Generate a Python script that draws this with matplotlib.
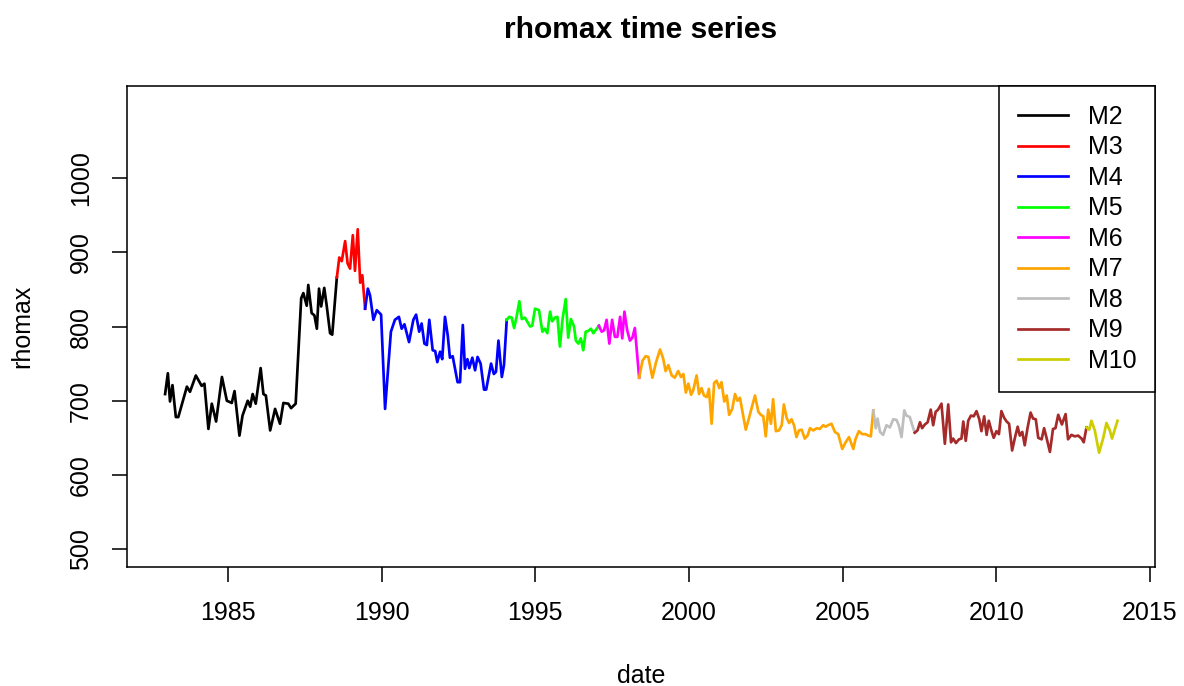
import matplotlib
matplotlib.use("Agg")
import matplotlib.pyplot as plt

plt.rcParams['font.family'] = ['Liberation Sans', 'DejaVu Sans']

# rhomax readings per instrument period (decimal year, value)
m2_t = [1982.95, 1983.04, 1983.11, 1983.19, 1983.30, 1983.38, 1983.66, 1983.76, 1983.95, 1984.14,
        1984.23, 1984.36, 1984.47, 1984.61, 1984.80, 1984.96, 1985.12, 1985.21, 1985.37, 1985.47,
        1985.64, 1985.72, 1985.80, 1985.90, 1986.06, 1986.15, 1986.23, 1986.37, 1986.53, 1986.69,
        1986.80, 1986.96, 1987.05, 1987.20, 1987.38, 1987.45, 1987.56, 1987.61, 1987.72, 1987.81,
        1987.89, 1987.96, 1988.03, 1988.13, 1988.21, 1988.32, 1988.39, 1988.54]
m2_v = [709, 737, 699, 721, 678, 678, 719, 712, 734, 720,
        723, 662, 696, 672, 732, 700, 697, 713, 653, 680,
        700, 692, 709, 696, 744, 709, 707, 660, 689, 669,
        697, 696, 690, 696, 838, 845, 828, 856, 818, 815,
        797, 851, 827, 852, 828, 791, 789, 866]

m3_t = [1988.54, 1988.62, 1988.70, 1988.81, 1988.89, 1988.97, 1989.06, 1989.13, 1989.22, 1989.30,
        1989.37, 1989.46]
m3_v = [866, 893, 888, 915, 885, 878, 923, 875, 931, 859, 869, 824]

m4_t = [1989.46, 1989.55, 1989.62, 1989.73, 1989.84, 1989.98, 1990.11, 1990.30, 1990.43, 1990.56,
        1990.65, 1990.74, 1990.89, 1991.03, 1991.12, 1991.22, 1991.30, 1991.39, 1991.47, 1991.55,
        1991.66, 1991.74, 1991.81, 1991.90, 1991.97, 1992.06, 1992.15, 1992.22, 1992.31, 1992.47,
        1992.55, 1992.64, 1992.71, 1992.79, 1992.85, 1992.95, 1993.04, 1993.12, 1993.22, 1993.33,
        1993.40, 1993.56, 1993.65, 1993.72, 1993.80, 1993.91, 1993.98, 1994.07]
m4_v = [824, 851, 842, 809, 822, 816, 689, 793, 809, 813,
        797, 803, 779, 809, 816, 793, 804, 777, 775, 809,
        768, 767, 752, 766, 756, 813, 788, 758, 760, 725,
        725, 802, 743, 756, 744, 758, 741, 759, 750, 715,
        715, 750, 736, 739, 781, 732, 748, 809]

m5_t = [1994.07, 1994.15, 1994.23, 1994.31, 1994.39, 1994.48, 1994.56, 1994.66, 1994.83, 1994.90,
        1994.99, 1995.12, 1995.23, 1995.31, 1995.39, 1995.48, 1995.55, 1995.64, 1995.72, 1995.80,
        1995.89, 1995.99, 1996.07, 1996.16, 1996.26, 1996.32, 1996.40, 1996.48, 1996.56, 1996.64,
        1996.72, 1996.81, 1996.89, 1997.00, 1997.07]
m5_v = [809, 813, 812, 798, 813, 834, 810, 812, 800, 801,
        824, 822, 793, 797, 791, 820, 807, 812, 813, 773,
        811, 837, 785, 810, 800, 781, 777, 784, 768, 793,
        794, 797, 791, 797, 801]

m6_t = [1997.07, 1997.16, 1997.24, 1997.32, 1997.41, 1997.50, 1997.59, 1997.67, 1997.76, 1997.83,
        1997.90, 1997.99, 1998.08, 1998.16, 1998.24, 1998.38]
m6_v = [801, 793, 795, 809, 777, 809, 786, 786, 813, 784, 820, 795, 781, 785, 798, 731]

m7_t = [1998.38, 1998.49, 1998.59, 1998.68, 1998.81, 1998.93, 1999.06, 1999.16, 1999.24, 1999.33,
        1999.44, 1999.54, 1999.65, 1999.74, 1999.82, 1999.90, 1999.98, 2000.07, 2000.14, 2000.25,
        2000.33, 2000.41, 2000.49, 2000.58, 2000.65, 2000.74, 2000.82, 2000.90, 2000.99, 2001.06,
        2001.15, 2001.23, 2001.31, 2001.41, 2001.50, 2001.58, 2001.66, 2001.77, 2001.85, 2001.95,
        2002.15, 2002.26, 2002.34, 2002.42, 2002.50, 2002.58, 2002.67, 2002.74, 2002.83, 2002.93,
        2003.02, 2003.09, 2003.18, 2003.26, 2003.34, 2003.42, 2003.50, 2003.58, 2003.67, 2003.77,
        2003.86, 2003.94, 2004.05, 2004.16, 2004.26, 2004.37, 2004.45, 2004.53, 2004.64, 2004.75,
        2004.86, 2004.99, 2005.10, 2005.21, 2005.35, 2005.42, 2005.53, 2005.64, 2005.75, 2005.84,
        2005.92, 2006.00]
m7_v = [731, 754, 760, 759, 731, 752, 769, 757, 740, 748,
        734, 731, 740, 732, 736, 711, 723, 708, 714, 734,
        709, 717, 707, 705, 716, 669, 724, 727, 717, 725,
        699, 707, 681, 689, 709, 700, 704, 679, 661, 676,
        707, 685, 681, 679, 652, 688, 669, 702, 659, 660,
        667, 695, 677, 670, 675, 667, 651, 660, 661, 649,
        653, 663, 660, 663, 662, 667, 665, 667, 669, 658,
        655, 635, 644, 651, 635, 648, 659, 655, 655, 653,
        652, 687]

m8_t = [2006.00, 2006.08, 2006.14, 2006.22, 2006.32, 2006.43, 2006.54, 2006.65, 2006.76, 2006.83,
        2006.92, 2007.01, 2007.08, 2007.19, 2007.27, 2007.35]
m8_v = [687, 663, 676, 658, 654, 667, 664, 675, 674, 667, 651, 687, 680, 678, 667, 657]

m9_t = [2007.35, 2007.44, 2007.52, 2007.59, 2007.68, 2007.77, 2007.87, 2007.95, 2008.03, 2008.11,
        2008.22, 2008.33, 2008.44, 2008.53, 2008.60, 2008.69, 2008.79, 2008.87, 2008.93, 2009.01,
        2009.09, 2009.18, 2009.27, 2009.36, 2009.45, 2009.52, 2009.61, 2009.69, 2009.76, 2009.85,
        2009.92, 2010.01, 2010.09, 2010.17, 2010.26, 2010.34, 2010.42, 2010.52, 2010.61, 2010.70,
        2010.77, 2010.85, 2010.93, 2011.02, 2011.12, 2011.20, 2011.29, 2011.37, 2011.48, 2011.56,
        2011.64, 2011.75, 2011.85, 2011.93, 2012.02, 2012.14, 2012.26, 2012.34, 2012.45, 2012.56,
        2012.67, 2012.78, 2012.85, 2012.94]
m9_v = [657, 660, 671, 663, 668, 671, 688, 667, 685, 688,
        696, 642, 695, 644, 649, 643, 648, 649, 672, 646,
        673, 680, 679, 686, 675, 659, 679, 654, 673, 659,
        650, 659, 655, 686, 677, 672, 669, 633, 650, 665,
        653, 658, 640, 663, 684, 676, 675, 650, 648, 663,
        650, 631, 662, 663, 681, 668, 682, 648, 654, 652,
        653, 649, 644, 664]

m10_t = [2012.94, 2013.03, 2013.10, 2013.21, 2013.35, 2013.48, 2013.59, 2013.70, 2013.77, 2013.95]
m10_v = [664, 661, 673, 660, 630, 649, 670, 660, 649, 673]

labels = ['M2', 'M3', 'M4', 'M5', 'M6', 'M7', 'M8', 'M9', 'M10']
colors = ['black', '#FF0000', '#0000FF', '#00FF00', '#FF00FF', '#FFA500', '#BEBEBE', '#A52A2A', '#CDCD00']
series = [(m2_t, m2_v), (m3_t, m3_v), (m4_t, m4_v), (m5_t, m5_v), (m6_t, m6_v),
          (m7_t, m7_v), (m8_t, m8_v), (m9_t, m9_v), (m10_t, m10_v)]

fig = plt.figure(figsize=(1184 / 150, 686 / 150), dpi=150)
ax = fig.add_axes([127 / 1184, 1 - 567 / 686, (1155 - 127) / 1184, (567 - 86) / 686])

for (t, v), c, lab in zip(series, colors, labels):
    ax.plot(t, v, color=c, lw=1.3, label=lab)

ax.set_xlim(1981.71, 2015.17)
ax.set_ylim(476, 1124)
ax.set_xticks([1985, 1990, 1995, 2000, 2005, 2010, 2015])
ax.set_yticks([500, 600, 700, 800, 900, 1000])
for lbl in ax.get_yticklabels():
    lbl.set_rotation(90)
    lbl.set_va('center')
ax.tick_params(direction='out', length=7, width=0.75, labelsize=12, pad=9.5)
for s in ax.spines.values():
    s.set_linewidth(0.75)
    s.set_color('black')

ax.set_xlabel('date', fontsize=12, labelpad=18.5)
ax.set_ylabel('rhomax', fontsize=12, labelpad=16.5)
ax.set_title('rhomax time series', fontsize=14.4, fontweight='bold', pad=23)

leg = ax.legend(loc='upper right', bbox_to_anchor=(1, 1), borderaxespad=0, fontsize=12,
                fancybox=False, framealpha=1, edgecolor='black', handlelength=2.0,
                handletextpad=0.8, labelspacing=0.26, borderpad=0.75)
leg.get_frame().set_linewidth(0.75)

fig.savefig('out.png', dpi=150)
